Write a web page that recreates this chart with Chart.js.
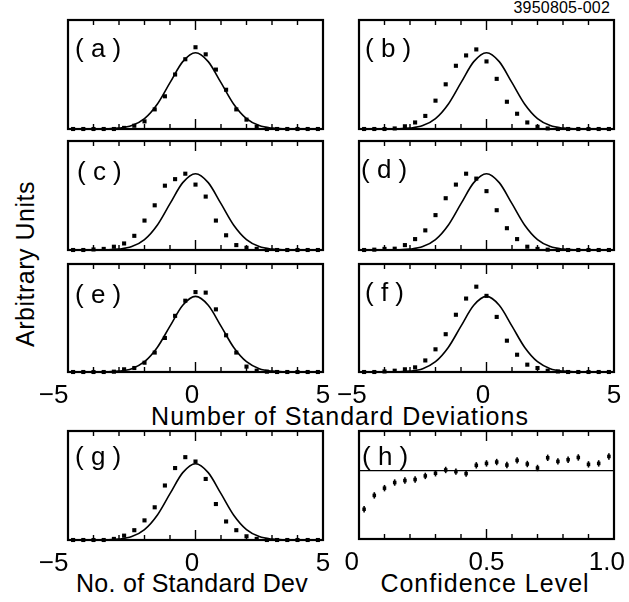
<!DOCTYPE html>
<html>
<head>
<meta charset="utf-8">
<script src="https://cdn.jsdelivr.net/npm/chart.js@4.4.0/dist/chart.umd.min.js"></script>
<style>
  html, body { margin: 0; padding: 0; background: #fff; }
  #fig { position: relative; width: 629px; height: 602px; overflow: hidden;
         font-family: "Liberation Sans", Arial, sans-serif; color: #000; }
  #fig canvas { position: absolute; }
  .lbl { position: absolute; white-space: nowrap; line-height: 1; }
  #ident { right: 19px; top: 0px; font-size: 16px; letter-spacing: 0.2px; }
  #yTitle { left: 24.5px; top: 264px; font-size: 25px; letter-spacing: 0.5px;
            transform: translate(-50%, -50%) rotate(-90deg); }
  #xTitleTop { left: 340px; top: 404px; font-size: 25px; letter-spacing: 1px; transform: translateX(-50%); }
  #xTitleG { left: 192px; top: 571px; font-size: 25px; letter-spacing: 0.3px; transform: translateX(-50%); }
  #xTitleH { left: 485px; top: 571px; font-size: 25px; letter-spacing: 1px; transform: translateX(-50%); }
</style>
</head>
<body>
<div id="fig">
  <div class="lbl" id="ident">3950805-002</div>
  <div class="lbl" id="yTitle">Arbitrary Units</div>
  <div class="lbl" id="xTitleTop">Number of Standard Deviations</div>
  <div class="lbl" id="xTitleG">No. of Standard Dev</div>
  <div class="lbl" id="xTitleH">Confidence Level</div>
</div>
<script>
// bin centres (standard deviations) shared by panels a-g
const sigmaBins = [-4.8, -4.4, -4.0, -3.6, -3.2, -2.8, -2.4, -2.0, -1.6, -1.2, -0.8, -0.4, 0,
                   0.4, 0.8, 1.2, 1.6, 2.0, 2.4, 2.8, 3.2, 3.6, 4.0, 4.4, 4.8];

const seriesA = [0, 0, 0, 0, 0, 0.01, 0.03, 0.07, 0.18, 0.30, 0.50, 0.64, 0.75,
                 0.685, 0.545, 0.36, 0.18, 0.086, 0.02, 0, 0, 0, 0, 0, 0];
const seriesB = [0, 0, 0, 0.005, 0.025, 0.06, 0.12, 0.26, 0.41, 0.58, 0.675, 0.73, 0.62,
                 0.46, 0.25, 0.14, 0.06, 0.02, 0.005, 0, 0, 0, 0, 0, 0];
const seriesC = [0, 0, 0.005, 0.01, 0.03, 0.06, 0.13, 0.27, 0.41, 0.59, 0.65, 0.70, 0.60,
                 0.49, 0.27, 0.135, 0.045, 0.02, 0.01, 0, 0, 0, 0, 0, 0];
const seriesD = [0, 0.003, 0.01, 0.012, 0.045, 0.10, 0.18, 0.32, 0.475, 0.60, 0.70, 0.655, 0.54,
                 0.365, 0.20, 0.10, 0.03, 0.01, 0.003, 0, 0, 0, 0, 0, 0];
const seriesE = [0, 0, 0, 0, 0.003, 0.025, 0.037, 0.086, 0.18, 0.315, 0.52, 0.66, 0.74,
                 0.735, 0.58, 0.34, 0.18, 0.05, 0.012, 0.003, 0, 0, 0, 0, 0];
const seriesF = [0, 0, 0.005, 0.012, 0.025, 0.043, 0.107, 0.21, 0.35, 0.53, 0.68, 0.79, 0.705,
                 0.51, 0.29, 0.16, 0.068, 0.037, 0.012, 0.005, 0, 0, 0, 0, 0];
const seriesG = [0, 0, 0, 0, 0.01, 0.04, 0.09, 0.18, 0.30, 0.50, 0.66, 0.76, 0.72,
                 0.56, 0.33, 0.17, 0.09, 0.034, 0.01, 0, 0, 0, 0, 0, 0];

// the reference gaussian drawn in every panel a-g
const curveX = [-5, -4.5, -4, -3.5, -3, -2.5, -2, -1.5, -1, -0.5, 0,
                0.5, 1, 1.5, 2, 2.5, 3, 3.5, 4, 4.5, 5];
const curveY = [0, 0, 0, 0.0015, 0.008, 0.031, 0.095, 0.227, 0.425, 0.618, 0.70,
                0.618, 0.425, 0.227, 0.095, 0.031, 0.008, 0.0015, 0, 0, 0];

// panel h: confidence level bins and ratio
const confBins = [0.02, 0.06, 0.10, 0.14, 0.18, 0.22, 0.26, 0.30, 0.34, 0.38, 0.42, 0.46, 0.50,
                  0.54, 0.58, 0.62, 0.66, 0.70, 0.74, 0.78, 0.82, 0.86, 0.90, 0.94, 0.98];
const ratioH = [0.435, 0.638, 0.744, 0.826, 0.855, 0.870, 0.923, 0.962, 1.010, 0.986, 0.957, 1.078, 1.106,
                1.126, 1.082, 1.150, 1.097, 1.039, 1.188, 1.135, 1.160, 1.193, 1.092, 1.106, 1.208];
const flatLevel = 1.0;

// tick labels (trailing spaces nudge the text left the way the original sets it)
const sigmaTicks = [-5, 0, 5];
const sigmaTextLeft = ['\u22125    ', '0 ', '5'];
const sigmaTextRight = ['\u22125  ', '0 ', '5'];
const confTicks = [0, 0.5, 1.0];
const confText = ['0  ', '0.5', '1.0  '];

Chart.defaults.font.family = '"Liberation Sans", Arial, sans-serif';
Chart.defaults.color = '#000';

const fig = document.getElementById('fig');
const W = 255, P = 44, HX = 44;

// where each plot frame sits on the page
const frames = {
  a: { left: 68, top: 20, height: 109, dx: 7, dy: 37 },
  b: { left: 359, top: 20, height: 109, dx: 6, dy: 37 },
  c: { left: 68, top: 141, height: 109, dx: 9, dy: 39 },
  d: { left: 359, top: 141, height: 109, dx: 2, dy: 37 },
  e: { left: 68, top: 264, height: 108, dx: 7, dy: 39 },
  f: { left: 359, top: 264, height: 108, dx: 6, dy: 37 },
  g: { left: 68, top: 431, height: 109, dx: 7, dy: 34 },
  h: { left: 359, top: 431, height: 108, dx: 3, dy: 34 }
};

// box round the plot, inward ticks top and bottom, panel letter
const framePlugin = {
  id: 'frame',
  beforeDatasetsDraw(chart, args, opts) {
    const { ctx, chartArea: a } = chart;
    const x = chart.scales.x;
    ctx.save();
    ctx.strokeStyle = '#000';
    ctx.lineWidth = 1.4;
    x.ticks.forEach(t => {
      const px = x.getPixelForValue(t.value);
      if (px <= a.left + 1 || px >= a.right - 1) return;
      const len = Math.abs(t.value - opts.longAt) < 1e-6 ? 10 : 5;
      ctx.beginPath();
      ctx.moveTo(px, a.top); ctx.lineTo(px, a.top + len);
      ctx.moveTo(px, a.bottom); ctx.lineTo(px, a.bottom - len);
      ctx.stroke();
    });
    ctx.lineWidth = 2.2;
    ctx.strokeRect(a.left, a.top, a.right - a.left, a.bottom - a.top);
    ctx.fillStyle = '#000';
    ctx.font = '26px "Liberation Sans", Arial, sans-serif';
    ctx.textBaseline = 'alphabetic';
    ctx.fillText(opts.label, a.left + opts.dx, a.top + opts.dy);
    ctx.restore();
  }
};

function pickLabel(v, ticks, texts) {
  const i = ticks.findIndex(t => Math.abs(t - v) < 1e-6);
  return i < 0 ? '' : texts[i];
}

function addPanel(key, datasets, axis, yMax) {
  const g = frames[key];
  const labels = !!axis.texts;
  const h = g.height + 2 * P + (labels ? HX : 0);
  const cv = document.createElement('canvas');
  cv.width = W + 2 * P;
  cv.height = h;
  cv.style.left = (g.left - P) + 'px';
  cv.style.top = (g.top - P) + 'px';
  cv.style.width = (W + 2 * P) + 'px';
  cv.style.height = h + 'px';
  fig.appendChild(cv);

  new Chart(cv, {
    type: 'scatter',
    data: { datasets },
    options: {
      responsive: false,
      animation: false,
      events: [],
      layout: { padding: P },
      plugins: {
        legend: { display: false },
        tooltip: { enabled: false },
        frame: { label: '( ' + key + ' )', dx: g.dx, dy: g.dy, longAt: axis.longAt }
      },
      scales: {
        x: {
          type: 'linear', min: axis.min, max: axis.max,
          grid: { display: false, drawTicks: false },
          border: { display: false },
          ticks: {
            display: labels, stepSize: axis.step, autoSkip: false,
            maxRotation: 0, minRotation: 0, padding: 8, color: '#000',
            font: { size: 26 },
            callback: v => labels ? pickLabel(v, axis.ticks, axis.texts) : ''
          },
          afterFit: s => { s.height = labels ? HX : 0; }
        },
        y: { display: false, min: 0, max: yMax }
      }
    },
    plugins: [framePlugin]
  });
}

function dots(xs, ys) {
  return {
    data: xs.map((x, i) => ({ x, y: ys[i] })),
    showLine: false, clip: false,
    pointStyle: 'rect', pointRadius: 2.9,
    pointBackgroundColor: '#000', pointBorderWidth: 0
  };
}

function gaussCurve() {
  return {
    data: curveX.map((x, i) => ({ x, y: curveY[i] })),
    showLine: true, clip: false, pointRadius: 0,
    borderColor: '#000', borderWidth: 1.6,
    cubicInterpolationMode: 'monotone', fill: false
  };
}

const sigmaAxis = texts => ({ min: -5, max: 5, step: 1, longAt: 0, ticks: sigmaTicks, texts });

addPanel('a', [dots(sigmaBins, seriesA), gaussCurve()], sigmaAxis(null), 1);
addPanel('b', [dots(sigmaBins, seriesB), gaussCurve()], sigmaAxis(null), 1);
addPanel('c', [dots(sigmaBins, seriesC), gaussCurve()], sigmaAxis(null), 1);
addPanel('d', [dots(sigmaBins, seriesD), gaussCurve()], sigmaAxis(null), 1);
addPanel('e', [dots(sigmaBins, seriesE), gaussCurve()], sigmaAxis(sigmaTextLeft), 1);
addPanel('f', [dots(sigmaBins, seriesF), gaussCurve()], sigmaAxis(sigmaTextRight), 1);
addPanel('g', [dots(sigmaBins, seriesG), gaussCurve()], sigmaAxis(sigmaTextLeft), 1);

// panel h: ratio with small error bars and flat reference line
addPanel('h', [
  Object.assign(dots(confBins, ratioH), { pointRadius: 2.5 }),
  {
    data: confBins.map((x, i) => ({ x, y: ratioH[i] })),
    showLine: false, clip: false,
    pointStyle: 'line', pointRotation: 90, pointRadius: 3.2,
    pointBorderColor: '#000', pointBorderWidth: 1.6
  },
  {
    data: [{ x: 0, y: flatLevel }, { x: 1, y: flatLevel }],
    showLine: true, clip: false, pointRadius: 0,
    borderColor: '#000', borderWidth: 1.3
  }
], { min: 0, max: 1, step: 0.1, longAt: 0.5, ticks: confTicks, texts: confText }, 1.58);
</script>
</body>
</html>
